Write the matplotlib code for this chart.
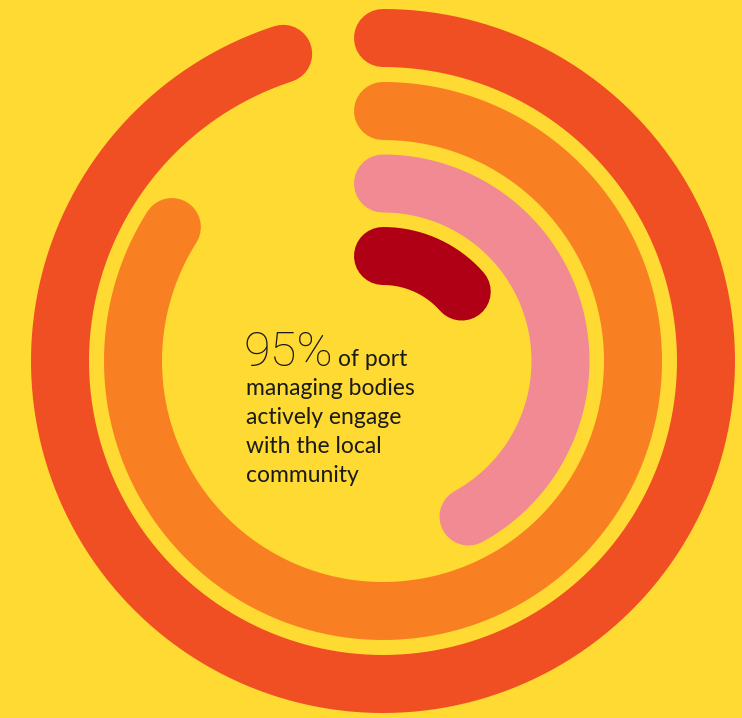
import numpy as np
import matplotlib.pyplot as plt

# share of port managing bodies per ring, outer to inner
values = [0.95, 0.84, 0.42, 0.135]
radii = [323, 250, 177.5, 105]
colors = ['#F04E23', '#F98022', '#F28A93', '#AF0016']
bg = '#FEDA32'

W, H = 742, 718
cx, cy = 383, 361
R = 360

fig = plt.figure(figsize=(W / 100, H / 100), dpi=100, facecolor=bg)

ax = fig.add_axes([(cx - R) / W, 1 - (cy + R) / H, 2 * R / W, 2 * R / H],
                  projection='polar')
ax.set_theta_zero_location('N')
ax.set_theta_direction(-1)
ax.set_ylim(0, R)
ax.axis('off')

lw = 58 * 72 / 100
for v, r, c in zip(values, radii, colors):
    theta = np.linspace(0, 2 * np.pi * v, 400)
    ax.plot(theta, np.full_like(theta, r), color=c, lw=lw,
            solid_capstyle='round', clip_on=False)

# caption
tx = fig.add_axes([0, 0, 1, 1])
tx.set_xlim(0, W)
tx.set_ylim(H, 0)
tx.axis('off')
tx.patch.set_alpha(0)

font = 'Lato'
tx.text(243, 366, '95%', fontsize=35, fontweight='light', family='Roboto',
        color='#1a1a1a', va='baseline')
tx.text(338, 366, 'of port', fontsize=16.5, family=font, color='#1a1a1a',
        va='baseline')
lines = ['managing bodies', 'actively engage', 'with the local', 'community']
for i, s in enumerate(lines):
    tx.text(246, 395 + 29 * i, s, fontsize=16.5, family=font,
            color='#1a1a1a', va='baseline')

fig.savefig('out.png', dpi=100, facecolor=bg)
